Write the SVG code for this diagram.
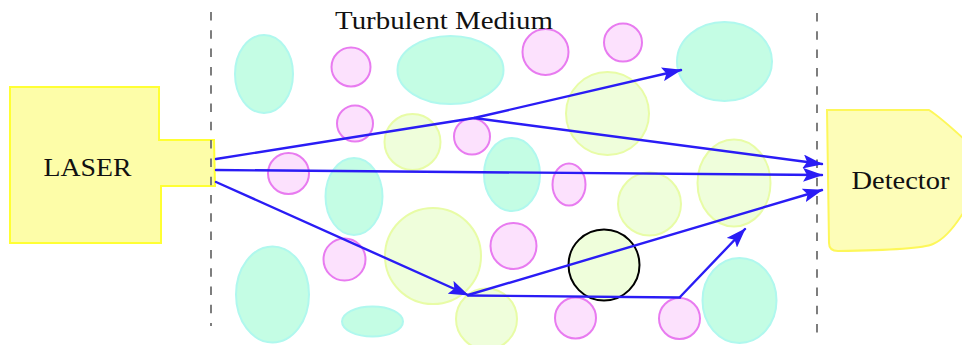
<svg xmlns="http://www.w3.org/2000/svg" width="962" height="345" viewBox="0 0 962 345">
<defs>
<style>
.cy{fill:#c4fde4;stroke:#b0f8ee;stroke-width:2}
.pk{fill:#fce1fd;stroke:#e87bf0;stroke-width:2}
.lg{fill:#effedb;stroke:#e8fca6;stroke-width:2}
.dash{stroke:#707070;stroke-width:1.8;stroke-dasharray:8.5 9.8;fill:none}
.ray{stroke:#2a1cf5;stroke-width:2.4;fill:none;stroke-linecap:round;stroke-linejoin:round}
.lbl{font-family:"Liberation Serif","DejaVu Serif",serif;fill:#111}
</style>
<marker id="ah" viewBox="0 0 20 14" refX="19" refY="7" markerWidth="20" markerHeight="14" markerUnits="userSpaceOnUse" orient="auto">
<path d="M0,0 L20,7 L0,14 L4,7 Z" fill="#2a1cf5"/>
</marker>
</defs>
<rect width="962" height="345" fill="#fff"/>
<g id="medium">
<ellipse class="cy" cx="264" cy="74" rx="29" ry="39"/>
<ellipse class="cy" cx="450.5" cy="70" rx="53" ry="34"/>
<ellipse class="cy" cx="724.5" cy="61.5" rx="47.5" ry="39.5"/>
<ellipse class="cy" cx="354" cy="196.5" rx="28.5" ry="38.5"/>
<ellipse class="cy" cx="512" cy="174.5" rx="28" ry="36.5"/>
<ellipse class="cy" cx="272.5" cy="294.5" rx="36.5" ry="48"/>
<ellipse class="cy" cx="372.5" cy="321.5" rx="30.5" ry="15"/>
<ellipse class="cy" cx="739.5" cy="300.5" rx="37" ry="42.5"/>
<circle class="lg" cx="607.5" cy="113.5" r="41.5"/>
<circle class="lg" cx="412.5" cy="142" r="28"/>
<circle class="lg" cx="649.5" cy="204" r="31.5"/>
<ellipse class="lg" cx="734" cy="183" rx="36.5" ry="43.5"/>
<circle class="lg" cx="433" cy="256" r="48"/>
<circle class="lg" cx="486.5" cy="319" r="30.5"/>
<circle class="pk" cx="351" cy="67" r="19.5"/>
<circle class="pk" cx="545.5" cy="52" r="23"/>
<circle class="pk" cx="623" cy="42.5" r="19"/>
<circle class="pk" cx="355" cy="123.5" r="18"/>
<circle class="pk" cx="472" cy="136.5" r="18"/>
<circle class="pk" cx="288.5" cy="173.5" r="20.5"/>
<ellipse class="pk" cx="569" cy="184.5" rx="16.5" ry="21"/>
<circle class="pk" cx="344.5" cy="259.5" r="21"/>
<circle class="pk" cx="513.5" cy="246" r="23"/>
<circle class="pk" cx="575.5" cy="318" r="20.5"/>
<circle class="pk" cx="679.5" cy="318.5" r="20.5"/>
<circle cx="604" cy="265" r="35.5" fill="#effedb" stroke="#000" stroke-width="2"/>
<text class="lbl" x="444" y="29" font-size="26" text-anchor="middle" textLength="218" lengthAdjust="spacingAndGlyphs">Turbulent Medium</text>
</g>
<g id="laser">
<path d="M10,87 L159,87 L159,140 L214,140 L215,186 L161,186 L161,243 L10,243 Z" fill="#fdfda8" stroke="#ffff33" stroke-width="2"/>
<text class="lbl" x="87.5" y="175.5" font-size="26" text-anchor="middle" textLength="88" lengthAdjust="spacingAndGlyphs">LASER</text>
</g>
<g id="detector">
<path d="M827,110 L929,110 Q940,117 965,140 L965,210 Q948,238 933,244 Q920,250 838,251 Q829,251 829,243 Z" fill="#fdfdb8" stroke="#fdf75a" stroke-width="2"/>
<text class="lbl" x="900.5" y="189" font-size="26" text-anchor="middle" textLength="98" lengthAdjust="spacingAndGlyphs">Detector</text>
</g>
<g id="boundaries">
<line class="dash" x1="211" y1="12" x2="211" y2="326"/>
<line class="dash" x1="817" y1="13" x2="817" y2="333"/>
</g>
<g id="connectors">
<polyline class="ray" points="216,159 474,118 681,70" marker-end="url(#ah)"/>
<line class="ray" x1="474" y1="118" x2="822" y2="164" marker-end="url(#ah)"/>
<line class="ray" x1="216" y1="170" x2="822" y2="175" marker-end="url(#ah)"/>
<line class="ray" x1="216" y1="182" x2="468" y2="295" marker-end="url(#ah)"/>
<line class="ray" x1="468" y1="295" x2="822" y2="190" marker-end="url(#ah)"/>
<line class="ray" x1="468" y1="295.5" x2="680" y2="297.5"/>
<line class="ray" x1="680" y1="297" x2="745" y2="229" marker-end="url(#ah)"/>
</g>
</svg>
